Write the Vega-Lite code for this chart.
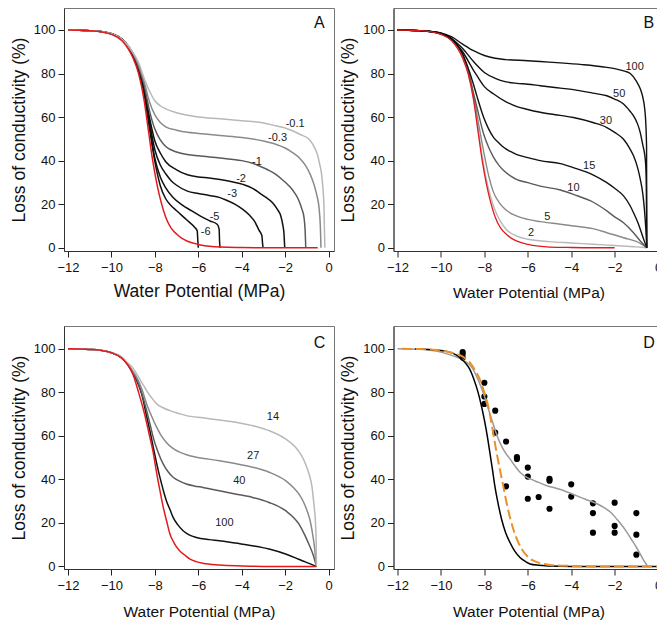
{
"$schema": "https://vega.github.io/schema/vega-lite/v6.json",
"background": "white",
"padding": {"left": 9, "top": 7, "right": -7, "bottom": 0},
"columns": 2,
"spacing": {"row": 75, "column": 59.5},
"bounds": "flush",
"config": {
  "font": "Liberation Sans",
  "view": {"stroke": "#777", "strokeWidth": 1},
  "axis": {"grid": false, "labelFont": "Liberation Sans", "titleFont": "Liberation Sans", "labelFontSize": 13, "titleFontWeight": "normal", "tickSize": 6, "tickColor": "#222", "domainColor": "#333", "labelColor": "#111", "titleColor": "#111", "labelFlush": false, "labelOverlap": false},
  "axisX": {"labelPadding": 4, "titlePadding": 10, "titleFontSize": 15.5},
  "axisY": {"labelPadding": 3, "titlePadding": 5, "titleFontSize": 17.5},
  "text": {"font": "Liberation Sans"}
},
"datasets": {
"A": [
{"s":"red","x":-12,"y":100},{"s":"red","x":-11.5,"y":99.9},{"s":"red","x":-11,"y":99.7},{"s":"red","x":-10.5,"y":99.2},{"s":"red","x":-10,"y":98},{"s":"red","x":-9.5,"y":95},{"s":"red","x":-9,"y":87},{"s":"red","x":-8.75,"y":80},{"s":"red","x":-8.5,"y":68},{"s":"red","x":-8.3,"y":54},{"s":"red","x":-8.1,"y":40},{"s":"red","x":-7.9,"y":29},{"s":"red","x":-7.7,"y":20.5},{"s":"red","x":-7.5,"y":14},{"s":"red","x":-7.25,"y":9},{"s":"red","x":-7,"y":6.3},{"s":"red","x":-6.75,"y":4.3},{"s":"red","x":-6.5,"y":3},{"s":"red","x":-6,"y":1.5},{"s":"red","x":-5.5,"y":0.7},{"s":"red","x":-5,"y":0.3},{"s":"red","x":-4,"y":0.1},{"s":"red","x":-3,"y":0},{"s":"red","x":-0.5,"y":0},
{"s":"-6","x":-12,"y":100},{"s":"-6","x":-11.5,"y":99.9},{"s":"-6","x":-11,"y":99.7},{"s":"-6","x":-10.5,"y":99.3},{"s":"-6","x":-10,"y":98.3},{"s":"-6","x":-9.5,"y":95.6},{"s":"-6","x":-9,"y":88},{"s":"-6","x":-8.75,"y":81},{"s":"-6","x":-8.5,"y":71},{"s":"-6","x":-8.25,"y":55},{"s":"-6","x":-8,"y":39.5},{"s":"-6","x":-7.75,"y":28.5},{"s":"-6","x":-7.5,"y":22.5},{"s":"-6","x":-7.25,"y":19.3},{"s":"-6","x":-7,"y":17},{"s":"-6","x":-6.5,"y":12.5},{"s":"-6","x":-6.15,"y":9.2},{"s":"-6","x":-6.05,"y":7.8},{"s":"-6","x":-6.02,"y":3},{"s":"-6","x":-6,"y":0},
{"s":"-5","x":-12,"y":100},{"s":"-5","x":-11.5,"y":99.9},{"s":"-5","x":-11,"y":99.7},{"s":"-5","x":-10.5,"y":99.3},{"s":"-5","x":-10,"y":98.3},{"s":"-5","x":-9.5,"y":95.6},{"s":"-5","x":-9,"y":88.3},{"s":"-5","x":-8.75,"y":81.5},{"s":"-5","x":-8.5,"y":72},{"s":"-5","x":-8.25,"y":56.5},{"s":"-5","x":-8,"y":41},{"s":"-5","x":-7.75,"y":32.5},{"s":"-5","x":-7.5,"y":27.5},{"s":"-5","x":-7.15,"y":23},{"s":"-5","x":-6.75,"y":19.7},{"s":"-5","x":-6.3,"y":16.9},{"s":"-5","x":-5.9,"y":14.5},{"s":"-5","x":-5.46,"y":12.3},{"s":"-5","x":-5.12,"y":10.7},{"s":"-5","x":-5.04,"y":8.5},{"s":"-5","x":-5.02,"y":3},{"s":"-5","x":-5,"y":0},
{"s":"-3","x":-12,"y":100},{"s":"-3","x":-11.5,"y":99.9},{"s":"-3","x":-11,"y":99.7},{"s":"-3","x":-10.5,"y":99.3},{"s":"-3","x":-10,"y":98.3},{"s":"-3","x":-9.5,"y":95.6},{"s":"-3","x":-9,"y":88.6},{"s":"-3","x":-8.75,"y":82},{"s":"-3","x":-8.5,"y":73},{"s":"-3","x":-8.25,"y":58},{"s":"-3","x":-8,"y":45},{"s":"-3","x":-7.75,"y":38},{"s":"-3","x":-7.5,"y":34},{"s":"-3","x":-7.25,"y":30.8},{"s":"-3","x":-7,"y":28.7},{"s":"-3","x":-6.5,"y":26},{"s":"-3","x":-6,"y":24.9},{"s":"-3","x":-5.5,"y":24},{"s":"-3","x":-5,"y":23},{"s":"-3","x":-4.7,"y":21.8},{"s":"-3","x":-4.3,"y":19.9},{"s":"-3","x":-3.95,"y":17.6},{"s":"-3","x":-3.65,"y":15},{"s":"-3","x":-3.42,"y":12.3},{"s":"-3","x":-3.2,"y":8},{"s":"-3","x":-3.07,"y":5.5},{"s":"-3","x":-3.04,"y":2},{"s":"-3","x":-3.02,"y":0},
{"s":"-2","x":-12,"y":100},{"s":"-2","x":-11.5,"y":99.9},{"s":"-2","x":-11,"y":99.7},{"s":"-2","x":-10.5,"y":99.3},{"s":"-2","x":-10,"y":98.3},{"s":"-2","x":-9.5,"y":95.6},{"s":"-2","x":-9,"y":88.8},{"s":"-2","x":-8.75,"y":82.5},{"s":"-2","x":-8.5,"y":74},{"s":"-2","x":-8.25,"y":60},{"s":"-2","x":-8,"y":49},{"s":"-2","x":-7.75,"y":43.5},{"s":"-2","x":-7.5,"y":39.5},{"s":"-2","x":-7,"y":35.8},{"s":"-2","x":-6.5,"y":33.5},{"s":"-2","x":-6,"y":32.5},{"s":"-2","x":-5.5,"y":32},{"s":"-2","x":-5,"y":31.3},{"s":"-2","x":-4.5,"y":30.4},{"s":"-2","x":-3.95,"y":29.1},{"s":"-2","x":-3.5,"y":27.3},{"s":"-2","x":-3.2,"y":25.3},{"s":"-2","x":-2.9,"y":23.2},{"s":"-2","x":-2.58,"y":20.7},{"s":"-2","x":-2.35,"y":17.5},{"s":"-2","x":-2.2,"y":14.6},{"s":"-2","x":-2.1,"y":10},{"s":"-2","x":-2.05,"y":6},{"s":"-2","x":-2.03,"y":2},{"s":"-2","x":-2.02,"y":0},
{"s":"-1","x":-12,"y":100},{"s":"-1","x":-11.5,"y":99.9},{"s":"-1","x":-11,"y":99.7},{"s":"-1","x":-10.5,"y":99.3},{"s":"-1","x":-10,"y":98.3},{"s":"-1","x":-9.5,"y":95.6},{"s":"-1","x":-9,"y":89},{"s":"-1","x":-8.75,"y":83},{"s":"-1","x":-8.5,"y":75},{"s":"-1","x":-8.25,"y":63},{"s":"-1","x":-8,"y":54.5},{"s":"-1","x":-7.75,"y":49.5},{"s":"-1","x":-7.5,"y":46.5},{"s":"-1","x":-7,"y":44},{"s":"-1","x":-6.5,"y":42.8},{"s":"-1","x":-6,"y":42.2},{"s":"-1","x":-5,"y":41.2},{"s":"-1","x":-4,"y":40},{"s":"-1","x":-3.5,"y":38.8},{"s":"-1","x":-3.2,"y":37.6},{"s":"-1","x":-2.8,"y":35.8},{"s":"-1","x":-2.43,"y":33.7},{"s":"-1","x":-2.1,"y":31},{"s":"-1","x":-1.82,"y":28.4},{"s":"-1","x":-1.55,"y":25},{"s":"-1","x":-1.36,"y":21.5},{"s":"-1","x":-1.22,"y":17.5},{"s":"-1","x":-1.13,"y":13.8},{"s":"-1","x":-1.08,"y":8},{"s":"-1","x":-1.06,"y":3},{"s":"-1","x":-1.05,"y":0},
{"s":"-0.3","x":-12,"y":100},{"s":"-0.3","x":-11.5,"y":99.9},{"s":"-0.3","x":-11,"y":99.7},{"s":"-0.3","x":-10.5,"y":99.3},{"s":"-0.3","x":-10,"y":98.3},{"s":"-0.3","x":-9.5,"y":95.6},{"s":"-0.3","x":-9,"y":89.3},{"s":"-0.3","x":-8.75,"y":84},{"s":"-0.3","x":-8.5,"y":76.5},{"s":"-0.3","x":-8.25,"y":67},{"s":"-0.3","x":-8,"y":61},{"s":"-0.3","x":-7.75,"y":57.5},{"s":"-0.3","x":-7.5,"y":55.5},{"s":"-0.3","x":-7,"y":54},{"s":"-0.3","x":-6.5,"y":53},{"s":"-0.3","x":-6,"y":52.5},{"s":"-0.3","x":-5,"y":51.5},{"s":"-0.3","x":-4,"y":50.6},{"s":"-0.3","x":-3,"y":49},{"s":"-0.3","x":-2.43,"y":47.5},{"s":"-0.3","x":-2,"y":45.8},{"s":"-0.3","x":-1.66,"y":43.7},{"s":"-0.3","x":-1.3,"y":40.8},{"s":"-0.3","x":-1.05,"y":37.6},{"s":"-0.3","x":-0.85,"y":33.8},{"s":"-0.3","x":-0.67,"y":29},{"s":"-0.3","x":-0.55,"y":24.5},{"s":"-0.3","x":-0.44,"y":18.4},{"s":"-0.3","x":-0.38,"y":10},{"s":"-0.3","x":-0.36,"y":4},{"s":"-0.3","x":-0.35,"y":0},
{"s":"-0.1","x":-12,"y":100},{"s":"-0.1","x":-11.5,"y":99.9},{"s":"-0.1","x":-11,"y":99.7},{"s":"-0.1","x":-10.5,"y":99.3},{"s":"-0.1","x":-10,"y":98.3},{"s":"-0.1","x":-9.5,"y":95.6},{"s":"-0.1","x":-9,"y":89.5},{"s":"-0.1","x":-8.75,"y":85},{"s":"-0.1","x":-8.5,"y":78},{"s":"-0.1","x":-8.25,"y":72},{"s":"-0.1","x":-8,"y":67.5},{"s":"-0.1","x":-7.75,"y":65.2},{"s":"-0.1","x":-7.5,"y":63.8},{"s":"-0.1","x":-7,"y":62},{"s":"-0.1","x":-6.5,"y":60.8},{"s":"-0.1","x":-6,"y":60},{"s":"-0.1","x":-5,"y":59.2},{"s":"-0.1","x":-4,"y":58.3},{"s":"-0.1","x":-3,"y":57.3},{"s":"-0.1","x":-2.43,"y":56},{"s":"-0.1","x":-2,"y":55},{"s":"-0.1","x":-1.66,"y":53.7},{"s":"-0.1","x":-1.3,"y":52},{"s":"-0.1","x":-0.9,"y":49.8},{"s":"-0.1","x":-0.7,"y":47},{"s":"-0.1","x":-0.52,"y":43},{"s":"-0.1","x":-0.4,"y":38},{"s":"-0.1","x":-0.32,"y":33.7},{"s":"-0.1","x":-0.25,"y":26},{"s":"-0.1","x":-0.21,"y":18},{"s":"-0.1","x":-0.19,"y":8},{"s":"-0.1","x":-0.17,"y":0}
],
"B": [
{"s":"red","x":-12,"y":100},{"s":"red","x":-11.5,"y":99.9},{"s":"red","x":-11,"y":99.7},{"s":"red","x":-10.5,"y":99.2},{"s":"red","x":-10,"y":98},{"s":"red","x":-9.5,"y":95},{"s":"red","x":-9,"y":87},{"s":"red","x":-8.75,"y":80},{"s":"red","x":-8.5,"y":68},{"s":"red","x":-8.3,"y":54},{"s":"red","x":-8.1,"y":40},{"s":"red","x":-7.9,"y":29},{"s":"red","x":-7.7,"y":20.5},{"s":"red","x":-7.5,"y":14},{"s":"red","x":-7.25,"y":9},{"s":"red","x":-7,"y":6.3},{"s":"red","x":-6.75,"y":4.3},{"s":"red","x":-6.5,"y":3},{"s":"red","x":-6,"y":1.5},{"s":"red","x":-5.5,"y":0.7},{"s":"red","x":-5,"y":0.3},{"s":"red","x":-4,"y":0.1},{"s":"red","x":-3,"y":0},{"s":"red","x":-2,"y":0},
{"s":"2","x":-12,"y":100},{"s":"2","x":-11.5,"y":99.9},{"s":"2","x":-11,"y":99.7},{"s":"2","x":-10.5,"y":99.3},{"s":"2","x":-10,"y":98.1},{"s":"2","x":-9.5,"y":95.2},{"s":"2","x":-9,"y":87.5},{"s":"2","x":-8.75,"y":80.5},{"s":"2","x":-8.5,"y":69},{"s":"2","x":-8.3,"y":55.5},{"s":"2","x":-8.1,"y":42},{"s":"2","x":-7.9,"y":31},{"s":"2","x":-7.7,"y":23},{"s":"2","x":-7.5,"y":17},{"s":"2","x":-7.25,"y":12},{"s":"2","x":-7,"y":8.5},{"s":"2","x":-6.5,"y":5.3},{"s":"2","x":-6,"y":3.9},{"s":"2","x":-5,"y":2.8},{"s":"2","x":-4,"y":2.2},{"s":"2","x":-3,"y":1.6},{"s":"2","x":-2,"y":1},{"s":"2","x":-1,"y":0.4},{"s":"2","x":-0.52,"y":0},
{"s":"5","x":-12,"y":100},{"s":"5","x":-11.5,"y":99.9},{"s":"5","x":-11,"y":99.7},{"s":"5","x":-10.5,"y":99.3},{"s":"5","x":-10,"y":98.1},{"s":"5","x":-9.5,"y":95.3},{"s":"5","x":-9,"y":88},{"s":"5","x":-8.75,"y":81},{"s":"5","x":-8.5,"y":70},{"s":"5","x":-8.25,"y":56},{"s":"5","x":-8.03,"y":44},{"s":"5","x":-7.8,"y":33},{"s":"5","x":-7.6,"y":26},{"s":"5","x":-7.3,"y":20.5},{"s":"5","x":-7,"y":17.3},{"s":"5","x":-6.5,"y":14.5},{"s":"5","x":-6,"y":13},{"s":"5","x":-5.43,"y":12},{"s":"5","x":-4.5,"y":10.8},{"s":"5","x":-3.9,"y":10},{"s":"5","x":-3,"y":8.8},{"s":"5","x":-2.36,"y":6.9},{"s":"5","x":-1.59,"y":4.6},{"s":"5","x":-0.82,"y":2},{"s":"5","x":-0.52,"y":0},
{"s":"10","x":-12,"y":100},{"s":"10","x":-11.5,"y":99.9},{"s":"10","x":-11,"y":99.7},{"s":"10","x":-10.5,"y":99.3},{"s":"10","x":-10,"y":98.2},{"s":"10","x":-9.5,"y":95.5},{"s":"10","x":-9,"y":88.5},{"s":"10","x":-8.75,"y":81.5},{"s":"10","x":-8.5,"y":71},{"s":"10","x":-8.34,"y":64.4},{"s":"10","x":-8.03,"y":52.1},{"s":"10","x":-7.8,"y":46},{"s":"10","x":-7.57,"y":41.4},{"s":"10","x":-7.3,"y":37.5},{"s":"10","x":-7.1,"y":35.3},{"s":"10","x":-6.8,"y":33},{"s":"10","x":-6.5,"y":31.3},{"s":"10","x":-6,"y":29.9},{"s":"10","x":-5.43,"y":28.3},{"s":"10","x":-4.5,"y":26.5},{"s":"10","x":-3.9,"y":24.5},{"s":"10","x":-3,"y":21},{"s":"10","x":-2.36,"y":16.9},{"s":"10","x":-2,"y":14.2},{"s":"10","x":-1.59,"y":11.5},{"s":"10","x":-1.13,"y":6.9},{"s":"10","x":-0.82,"y":3.1},{"s":"10","x":-0.52,"y":0},
{"s":"15","x":-12,"y":100},{"s":"15","x":-11.5,"y":99.9},{"s":"15","x":-11,"y":99.7},{"s":"15","x":-10.5,"y":99.3},{"s":"15","x":-10,"y":98.3},{"s":"15","x":-9.5,"y":95.8},{"s":"15","x":-9,"y":89},{"s":"15","x":-8.8,"y":84},{"s":"15","x":-8.5,"y":75},{"s":"15","x":-8.34,"y":69.5},{"s":"15","x":-8.03,"y":59.8},{"s":"15","x":-7.8,"y":54.5},{"s":"15","x":-7.57,"y":50.6},{"s":"15","x":-7.3,"y":47.8},{"s":"15","x":-7.1,"y":46},{"s":"15","x":-6.8,"y":44.2},{"s":"15","x":-6.5,"y":42.8},{"s":"15","x":-6,"y":41.4},{"s":"15","x":-5.43,"y":40},{"s":"15","x":-4.5,"y":38.6},{"s":"15","x":-3.9,"y":36.8},{"s":"15","x":-3,"y":33.5},{"s":"15","x":-2.36,"y":29.9},{"s":"15","x":-2,"y":27.3},{"s":"15","x":-1.59,"y":23.8},{"s":"15","x":-1.3,"y":19.5},{"s":"15","x":-1.13,"y":16.1},{"s":"15","x":-0.95,"y":12},{"s":"15","x":-0.82,"y":8.5},{"s":"15","x":-0.65,"y":3.5},{"s":"15","x":-0.52,"y":0},
{"s":"30","x":-12,"y":100},{"s":"30","x":-11.5,"y":99.9},{"s":"30","x":-11,"y":99.7},{"s":"30","x":-10.5,"y":99.3},{"s":"30","x":-10,"y":98.4},{"s":"30","x":-9.5,"y":96},{"s":"30","x":-9,"y":90},{"s":"30","x":-8.5,"y":81.5},{"s":"30","x":-8.34,"y":79},{"s":"30","x":-8,"y":74},{"s":"30","x":-7.57,"y":70.6},{"s":"30","x":-7,"y":67},{"s":"30","x":-6.5,"y":64.8},{"s":"30","x":-6,"y":63.5},{"s":"30","x":-5.43,"y":62.2},{"s":"30","x":-4.5,"y":60.8},{"s":"30","x":-3.9,"y":59.8},{"s":"30","x":-3,"y":57.5},{"s":"30","x":-2.36,"y":55.2},{"s":"30","x":-2,"y":53},{"s":"30","x":-1.59,"y":49.8},{"s":"30","x":-1.3,"y":45.5},{"s":"30","x":-1.13,"y":42.2},{"s":"30","x":-0.95,"y":37},{"s":"30","x":-0.82,"y":31.5},{"s":"30","x":-0.7,"y":24.5},{"s":"30","x":-0.63,"y":17.7},{"s":"30","x":-0.56,"y":8},{"s":"30","x":-0.52,"y":0},
{"s":"50","x":-12,"y":100},{"s":"50","x":-11.5,"y":99.9},{"s":"50","x":-11,"y":99.7},{"s":"50","x":-10.5,"y":99.3},{"s":"50","x":-10,"y":98.5},{"s":"50","x":-9.5,"y":96},{"s":"50","x":-9,"y":91.5},{"s":"50","x":-8.5,"y":85.5},{"s":"50","x":-8,"y":80.5},{"s":"50","x":-7.5,"y":77.8},{"s":"50","x":-7,"y":76.2},{"s":"50","x":-6.5,"y":75.5},{"s":"50","x":-6,"y":75.1},{"s":"50","x":-5.43,"y":74.4},{"s":"50","x":-4.5,"y":73.3},{"s":"50","x":-3.9,"y":72.6},{"s":"50","x":-3,"y":71},{"s":"50","x":-2.36,"y":69.8},{"s":"50","x":-2,"y":68.3},{"s":"50","x":-1.59,"y":66},{"s":"50","x":-1.3,"y":62.8},{"s":"50","x":-1.13,"y":60.6},{"s":"50","x":-0.95,"y":57},{"s":"50","x":-0.82,"y":52.9},{"s":"50","x":-0.7,"y":47},{"s":"50","x":-0.63,"y":43.7},{"s":"50","x":-0.57,"y":38},{"s":"50","x":-0.54,"y":28},{"s":"50","x":-0.52,"y":0},
{"s":"100","x":-12,"y":100},{"s":"100","x":-11.5,"y":99.9},{"s":"100","x":-11,"y":99.7},{"s":"100","x":-10.5,"y":99.3},{"s":"100","x":-10,"y":98.7},{"s":"100","x":-9.5,"y":96.8},{"s":"100","x":-9,"y":93.5},{"s":"100","x":-8.5,"y":90.5},{"s":"100","x":-8,"y":88.3},{"s":"100","x":-7.5,"y":87},{"s":"100","x":-7,"y":86.4},{"s":"100","x":-6,"y":85.9},{"s":"100","x":-5.43,"y":85.5},{"s":"100","x":-4.5,"y":84.9},{"s":"100","x":-3.5,"y":84.1},{"s":"100","x":-2.5,"y":83},{"s":"100","x":-1.9,"y":82},{"s":"100","x":-1.5,"y":81},{"s":"100","x":-1.28,"y":80},{"s":"100","x":-1,"y":76.5},{"s":"100","x":-0.82,"y":73},{"s":"100","x":-0.7,"y":69},{"s":"100","x":-0.63,"y":65},{"s":"100","x":-0.56,"y":56},{"s":"100","x":-0.53,"y":46},{"s":"100","x":-0.52,"y":0}
],
"C": [
{"s":"red","x":-12,"y":100},{"s":"red","x":-11.5,"y":99.9},{"s":"red","x":-11,"y":99.7},{"s":"red","x":-10.5,"y":99.3},{"s":"red","x":-10,"y":98.2},{"s":"red","x":-9.5,"y":95.5},{"s":"red","x":-9,"y":88},{"s":"red","x":-8.75,"y":80},{"s":"red","x":-8.5,"y":71},{"s":"red","x":-8.38,"y":66},{"s":"red","x":-8.2,"y":58},{"s":"red","x":-8.08,"y":52.5},{"s":"red","x":-7.92,"y":43},{"s":"red","x":-7.75,"y":34},{"s":"red","x":-7.62,"y":27.5},{"s":"red","x":-7.45,"y":20.5},{"s":"red","x":-7.31,"y":15},{"s":"red","x":-7.1,"y":10.5},{"s":"red","x":-6.86,"y":7.2},{"s":"red","x":-6.6,"y":5},{"s":"red","x":-6.4,"y":3.5},{"s":"red","x":-6.1,"y":2.2},{"s":"red","x":-5.79,"y":1.4},{"s":"red","x":-5.03,"y":0.6},{"s":"red","x":-4,"y":0.2},{"s":"red","x":-3,"y":0},{"s":"red","x":-0.56,"y":0},
{"s":"100","x":-12,"y":100},{"s":"100","x":-11.5,"y":99.9},{"s":"100","x":-11,"y":99.7},{"s":"100","x":-10.5,"y":99.3},{"s":"100","x":-10,"y":98.2},{"s":"100","x":-9.5,"y":95.7},{"s":"100","x":-9,"y":88.7},{"s":"100","x":-8.84,"y":85.5},{"s":"100","x":-8.6,"y":79},{"s":"100","x":-8.38,"y":69},{"s":"100","x":-8.2,"y":61},{"s":"100","x":-8.08,"y":55},{"s":"100","x":-7.92,"y":47.5},{"s":"100","x":-7.77,"y":41},{"s":"100","x":-7.62,"y":35.3},{"s":"100","x":-7.47,"y":30.2},{"s":"100","x":-7.3,"y":26},{"s":"100","x":-7.16,"y":22.5},{"s":"100","x":-6.95,"y":19.2},{"s":"100","x":-6.7,"y":16.4},{"s":"100","x":-6.4,"y":14.4},{"s":"100","x":-6.09,"y":13.3},{"s":"100","x":-5.5,"y":12.3},{"s":"100","x":-5.03,"y":11.8},{"s":"100","x":-4.3,"y":10.7},{"s":"100","x":-3.5,"y":9.5},{"s":"100","x":-2.74,"y":8},{"s":"100","x":-1.98,"y":5.7},{"s":"100","x":-1.5,"y":3.8},{"s":"100","x":-1.22,"y":2.6},{"s":"100","x":-0.9,"y":1.4},{"s":"100","x":-0.56,"y":0},
{"s":"40","x":-12,"y":100},{"s":"40","x":-11.5,"y":99.9},{"s":"40","x":-11,"y":99.7},{"s":"40","x":-10.5,"y":99.3},{"s":"40","x":-10,"y":98.2},{"s":"40","x":-9.5,"y":95.8},{"s":"40","x":-9,"y":89},{"s":"40","x":-8.84,"y":86.2},{"s":"40","x":-8.6,"y":79.5},{"s":"40","x":-8.38,"y":71.6},{"s":"40","x":-8.2,"y":64.5},{"s":"40","x":-8.08,"y":59.4},{"s":"40","x":-7.85,"y":52.5},{"s":"40","x":-7.62,"y":47.1},{"s":"40","x":-7.4,"y":43.6},{"s":"40","x":-7.16,"y":41},{"s":"40","x":-6.86,"y":39.2},{"s":"40","x":-6.55,"y":37.9},{"s":"40","x":-6.2,"y":37},{"s":"40","x":-5.79,"y":36.3},{"s":"40","x":-5.03,"y":34.8},{"s":"40","x":-4.3,"y":33.3},{"s":"40","x":-3.5,"y":31.7},{"s":"40","x":-2.74,"y":29.4},{"s":"40","x":-1.98,"y":25.6},{"s":"40","x":-1.37,"y":19.5},{"s":"40","x":-1.1,"y":14.5},{"s":"40","x":-0.91,"y":10.3},{"s":"40","x":-0.7,"y":5},{"s":"40","x":-0.56,"y":0},
{"s":"27","x":-12,"y":100},{"s":"27","x":-11.5,"y":99.9},{"s":"27","x":-11,"y":99.7},{"s":"27","x":-10.5,"y":99.3},{"s":"27","x":-10,"y":98.2},{"s":"27","x":-9.5,"y":96},{"s":"27","x":-9,"y":89.5},{"s":"27","x":-8.84,"y":87},{"s":"27","x":-8.6,"y":81.5},{"s":"27","x":-8.38,"y":74.7},{"s":"27","x":-8.15,"y":69},{"s":"27","x":-7.92,"y":64},{"s":"27","x":-7.7,"y":60},{"s":"27","x":-7.47,"y":57},{"s":"27","x":-7.2,"y":54.5},{"s":"27","x":-6.86,"y":52.5},{"s":"27","x":-6.5,"y":51.2},{"s":"27","x":-6.09,"y":50.2},{"s":"27","x":-5.03,"y":48.6},{"s":"27","x":-4.3,"y":47.3},{"s":"27","x":-3.5,"y":45.6},{"s":"27","x":-2.74,"y":43.3},{"s":"27","x":-1.98,"y":39.4},{"s":"27","x":-1.6,"y":36},{"s":"27","x":-1.37,"y":33.3},{"s":"27","x":-1.15,"y":29.5},{"s":"27","x":-0.99,"y":25.6},{"s":"27","x":-0.85,"y":21},{"s":"27","x":-0.76,"y":16.4},{"s":"27","x":-0.65,"y":9},{"s":"27","x":-0.56,"y":0},
{"s":"14","x":-12,"y":100},{"s":"14","x":-11.5,"y":99.9},{"s":"14","x":-11,"y":99.7},{"s":"14","x":-10.5,"y":99.3},{"s":"14","x":-10,"y":98.2},{"s":"14","x":-9.6,"y":96.7},{"s":"14","x":-9.3,"y":94},{"s":"14","x":-9,"y":91},{"s":"14","x":-8.84,"y":88.5},{"s":"14","x":-8.6,"y":84.5},{"s":"14","x":-8.38,"y":80.8},{"s":"14","x":-8.15,"y":77.5},{"s":"14","x":-7.92,"y":74.7},{"s":"14","x":-7.6,"y":72.8},{"s":"14","x":-7.31,"y":71.6},{"s":"14","x":-6.9,"y":70.3},{"s":"14","x":-6.55,"y":69.3},{"s":"14","x":-5.79,"y":68.3},{"s":"14","x":-5.03,"y":67.3},{"s":"14","x":-4.27,"y":66.3},{"s":"14","x":-3.5,"y":64.7},{"s":"14","x":-2.74,"y":62.4},{"s":"14","x":-1.98,"y":58.6},{"s":"14","x":-1.52,"y":54.8},{"s":"14","x":-1.25,"y":51},{"s":"14","x":-1.06,"y":47.1},{"s":"14","x":-0.9,"y":42.5},{"s":"14","x":-0.76,"y":36.3},{"s":"14","x":-0.67,"y":28},{"s":"14","x":-0.6,"y":19.5},{"s":"14","x":-0.57,"y":10},{"s":"14","x":-0.56,"y":0}
],
"D": [
{"s":"grey","x":-12,"y":100},{"s":"grey","x":-11,"y":99.8},{"s":"grey","x":-10.5,"y":99.4},{"s":"grey","x":-10,"y":98.5},{"s":"grey","x":-9.5,"y":97},{"s":"grey","x":-9,"y":95},{"s":"grey","x":-8.53,"y":90.8},{"s":"grey","x":-8.3,"y":86},{"s":"grey","x":-8.06,"y":80},{"s":"grey","x":-7.85,"y":73.5},{"s":"grey","x":-7.67,"y":67.8},{"s":"grey","x":-7.5,"y":62.5},{"s":"grey","x":-7.29,"y":57},{"s":"grey","x":-7.05,"y":52.5},{"s":"grey","x":-6.82,"y":49.4},{"s":"grey","x":-6.6,"y":46.3},{"s":"grey","x":-6.36,"y":43.3},{"s":"grey","x":-6.1,"y":41.3},{"s":"grey","x":-5.89,"y":40.2},{"s":"grey","x":-5.5,"y":38.6},{"s":"grey","x":-5.12,"y":37.1},{"s":"grey","x":-4.7,"y":35.9},{"s":"grey","x":-4.34,"y":34.8},{"s":"grey","x":-3.95,"y":33.3},{"s":"grey","x":-3.57,"y":31.7},{"s":"grey","x":-3.2,"y":30.3},{"s":"grey","x":-2.79,"y":28.7},{"s":"grey","x":-2.45,"y":26.8},{"s":"grey","x":-2.17,"y":24.8},{"s":"grey","x":-1.95,"y":22.3},{"s":"grey","x":-1.71,"y":19.5},{"s":"grey","x":-1.47,"y":16.2},{"s":"grey","x":-1.24,"y":12.6},{"s":"grey","x":-1,"y":8.8},{"s":"grey","x":-0.78,"y":4.9},{"s":"grey","x":-0.6,"y":1.8},{"s":"grey","x":-0.5,"y":0.3},
{"s":"black","x":-11.2,"y":99.9},{"s":"black","x":-10.54,"y":99.7},{"s":"black","x":-10,"y":99.2},{"s":"black","x":-9.61,"y":98.5},{"s":"black","x":-9.3,"y":97.2},{"s":"black","x":-9.07,"y":95.4},{"s":"black","x":-8.85,"y":93.2},{"s":"black","x":-8.68,"y":90.8},{"s":"black","x":-8.5,"y":86.5},{"s":"black","x":-8.29,"y":80},{"s":"black","x":-8.13,"y":73.5},{"s":"black","x":-7.98,"y":66.3},{"s":"black","x":-7.85,"y":59},{"s":"black","x":-7.75,"y":52.5},{"s":"black","x":-7.62,"y":44},{"s":"black","x":-7.52,"y":37.1},{"s":"black","x":-7.37,"y":29},{"s":"black","x":-7.21,"y":21.8},{"s":"black","x":-7.02,"y":15.5},{"s":"black","x":-6.82,"y":11},{"s":"black","x":-6.6,"y":7},{"s":"black","x":-6.36,"y":4.1},{"s":"black","x":-6.1,"y":2.2},{"s":"black","x":-5.89,"y":1.1},{"s":"black","x":-5.5,"y":0.5},{"s":"black","x":-5,"y":0.2},{"s":"black","x":-4,"y":0},{"s":"black","x":0,"y":0},
{"s":"orange","x":-11.8,"y":100},{"s":"orange","x":-11,"y":99.9},{"s":"orange","x":-10.5,"y":99.7},{"s":"orange","x":-10,"y":99.2},{"s":"orange","x":-9.5,"y":98.2},{"s":"orange","x":-9.15,"y":97.2},{"s":"orange","x":-8.9,"y":95.8},{"s":"orange","x":-8.68,"y":93.9},{"s":"orange","x":-8.45,"y":90.5},{"s":"orange","x":-8.22,"y":86.2},{"s":"orange","x":-8.02,"y":80.5},{"s":"orange","x":-7.83,"y":73.9},{"s":"orange","x":-7.7,"y":67.5},{"s":"orange","x":-7.6,"y":61.7},{"s":"orange","x":-7.45,"y":53},{"s":"orange","x":-7.29,"y":44.8},{"s":"orange","x":-7.13,"y":37},{"s":"orange","x":-6.98,"y":29.4},{"s":"orange","x":-6.82,"y":22.5},{"s":"orange","x":-6.67,"y":17.2},{"s":"orange","x":-6.48,"y":12},{"s":"orange","x":-6.28,"y":8},{"s":"orange","x":-6.02,"y":4.6},{"s":"orange","x":-5.74,"y":2.6},{"s":"orange","x":-5.35,"y":1.3},{"s":"orange","x":-4.96,"y":0.6},{"s":"orange","x":-4,"y":0.2},{"s":"orange","x":-3,"y":0},{"s":"orange","x":0.2,"y":0}
],
"Dp": [
{"x":-9,"y":98.5},{"x":-9,"y":97.5},{"x":-9,"y":96},{"x":-8,"y":84.4},{"x":-8,"y":78.1},{"x":-8,"y":74.7},{"x":-7.5,"y":71.6},{"x":-7.5,"y":61.5},{"x":-7,"y":57.4},{"x":-7,"y":36.8},{"x":-6.5,"y":50.2},{"x":-6.5,"y":49.4},{"x":-6,"y":45.4},{"x":-6,"y":41.3},{"x":-6,"y":31.1},{"x":-5.5,"y":31.9},{"x":-5,"y":40.2},{"x":-5,"y":39.4},{"x":-5,"y":26.5},{"x":-4,"y":37.7},{"x":-4,"y":32.1},{"x":-3,"y":29},{"x":-3,"y":24.5},{"x":-3,"y":15.5},{"x":-2,"y":29.3},{"x":-2,"y":18.6},{"x":-2,"y":15.5},{"x":-1,"y":24.5},{"x":-1,"y":14.6},{"x":-1,"y":5.4}
],
"L": [
{"p":"A","x":-1.54,"y":56.8,"t":"-0.1"},{"p":"A","x":-2.35,"y":50.3,"t":"-0.3"},{"p":"A","x":-3.3,"y":39.2,"t":"-1"},{"p":"A","x":-4.03,"y":31.4,"t":"-2"},{"p":"A","x":-4.44,"y":24.5,"t":"-3"},{"p":"A","x":-5.25,"y":14,"t":"-5"},{"p":"A","x":-5.66,"y":7.2,"t":"-6"},
{"p":"B","x":-1.08,"y":83,"t":"100"},{"p":"B","x":-1.79,"y":70.8,"t":"50"},{"p":"B","x":-2.4,"y":58.3,"t":"30"},{"p":"B","x":-3.17,"y":37.6,"t":"15"},{"p":"B","x":-3.9,"y":27.3,"t":"10"},{"p":"B","x":-5.1,"y":14.3,"t":"5"},{"p":"B","x":-5.85,"y":6.6,"t":"2"},
{"p":"C","x":-2.56,"y":68.6,"t":"14"},{"p":"C","x":-3.47,"y":50.6,"t":"27"},{"p":"C","x":-4.11,"y":39.4,"t":"40"},{"p":"C","x":-4.8,"y":19.8,"t":"100"}
],
"P": [
{"p":"A","x":-0.42,"y":101,"t":"A"},{"p":"B","x":-0.42,"y":101,"t":"B"},{"p":"C","x":-0.42,"y":100.5,"t":"C"},{"p":"D","x":-0.42,"y":100.5,"t":"D"}
]
},
"concat": [
{
 "width": 270, "height": 243,
 "encoding": {
  "x": {"field": "x", "type": "quantitative", "scale": {"domain": [-12.185, 0.25], "nice": false, "zero": false}, "axis": {"values": [-12,-10,-8,-6,-4,-2,0], "title": "Water Potential (MPa)", "titleFontSize": 17.5, "titlePadding": 8}},
  "y": {"field": "y", "type": "quantitative", "scale": {"domain": [-1.5, 110.1], "nice": false, "zero": false}, "axis": {"values": [0,20,40,60,80,100], "title": "Loss of conductivity (%)"}}
 },
 "layer": [
  {"data": {"name": "A"}, "transform": [{"filter": "datum.s != 'red'"}], "mark": {"type": "line", "interpolate": "monotone", "strokeWidth": 1.5},
   "encoding": {"color": {"field": "s", "type": "nominal", "legend": null, "scale": {"domain": ["-0.1","-0.3","-1","-2","-3","-5","-6"], "range": ["#b8b8b8","#8a8a8a","#5a5a5a","#111111","#111111","#111111","#111111"]}}}},
  {"data": {"name": "A"}, "transform": [{"filter": "datum.s == 'red'"}], "mark": {"type": "line", "interpolate": "monotone", "strokeWidth": 1.5, "color": "#e31a1c"}, "encoding": {}},
  {"data": {"name": "L"}, "transform": [{"filter": "datum.p == 'A'"}], "mark": {"type": "text", "fontSize": 11, "color": "#222"}, "encoding": {"text": {"field": "t"}}},
  {"data": {"name": "P"}, "transform": [{"filter": "datum.p == 'A'"}], "mark": {"type": "text", "fontSize": 16, "baseline": "alphabetic", "color": "#111"}, "encoding": {"text": {"field": "t"}}}
 ]
},
{
 "width": 270, "height": 243,
 "encoding": {
  "x": {"field": "x", "type": "quantitative", "scale": {"domain": [-12.185, 0.25], "nice": false, "zero": false}, "axis": {"values": [-12,-10,-8,-6,-4,-2,0], "title": "Water Potential (MPa)", "titlePadding": 11}},
  "y": {"field": "y", "type": "quantitative", "scale": {"domain": [-1.5, 110.1], "nice": false, "zero": false}, "axis": {"values": [0,20,40,60,80,100], "title": "Loss of conductivity (%)"}}
 },
 "layer": [
  {"data": {"name": "B"}, "transform": [{"filter": "datum.s != 'red'"}], "mark": {"type": "line", "interpolate": "monotone", "strokeWidth": 1.4},
   "encoding": {"color": {"field": "s", "type": "nominal", "legend": null, "scale": {"domain": ["2","5","10","15","30","50","100"], "range": ["#dcdcdc","#bdbdbd","#999999","#7a7a7a","#555555","#1a1a1a","#000000"]}}}},
  {"data": {"name": "B"}, "transform": [{"filter": "datum.s == 'red'"}], "mark": {"type": "line", "interpolate": "monotone", "strokeWidth": 1.3, "color": "#e31a1c"}, "encoding": {}},
  {"data": {"name": "L"}, "transform": [{"filter": "datum.p == 'B'"}], "mark": {"type": "text", "fontSize": 11, "color": "#222"}, "encoding": {"text": {"field": "t"}}},
  {"data": {"name": "P"}, "transform": [{"filter": "datum.p == 'B'"}], "mark": {"type": "text", "fontSize": 16, "baseline": "alphabetic", "color": "#111"}, "encoding": {"text": {"field": "t"}}}
 ]
},
{
 "width": 270, "height": 243,
 "encoding": {
  "x": {"field": "x", "type": "quantitative", "scale": {"domain": [-12.185, 0.25], "nice": false, "zero": false}, "axis": {"values": [-12,-10,-8,-6,-4,-2,0], "title": "Water Potential (MPa)", "titlePadding": 12}},
  "y": {"field": "y", "type": "quantitative", "scale": {"domain": [-1.2, 110.5], "nice": false, "zero": false}, "axis": {"values": [0,20,40,60,80,100], "title": "Loss of conductivity (%)"}}
 },
 "layer": [
  {"data": {"name": "C"}, "transform": [{"filter": "datum.s != 'red'"}], "mark": {"type": "line", "interpolate": "monotone", "strokeWidth": 1.5},
   "encoding": {"color": {"field": "s", "type": "nominal", "legend": null, "scale": {"domain": ["14","27","40","100"], "range": ["#b3b3b3","#8f8f8f","#555555","#000000"]}}}},
  {"data": {"name": "C"}, "transform": [{"filter": "datum.s == 'red'"}], "mark": {"type": "line", "interpolate": "monotone", "strokeWidth": 1.5, "color": "#e31a1c"}, "encoding": {}},
  {"data": {"name": "L"}, "transform": [{"filter": "datum.p == 'C'"}], "mark": {"type": "text", "fontSize": 11, "color": "#222"}, "encoding": {"text": {"field": "t"}}},
  {"data": {"name": "P"}, "transform": [{"filter": "datum.p == 'C'"}], "mark": {"type": "text", "fontSize": 16, "baseline": "alphabetic", "color": "#111"}, "encoding": {"text": {"field": "t"}}}
 ]
},
{
 "width": 270, "height": 243,
 "encoding": {
  "x": {"field": "x", "type": "quantitative", "scale": {"domain": [-12.185, 0.25], "nice": false, "zero": false}, "axis": {"values": [-12,-10,-8,-6,-4,-2,0], "title": "Water Potential (MPa)", "titlePadding": 12}},
  "y": {"field": "y", "type": "quantitative", "scale": {"domain": [-1.2, 110.5], "nice": false, "zero": false}, "axis": {"values": [0,20,40,60,80,100], "title": "Loss of conductivity (%)"}}
 },
 "layer": [
  {"data": {"name": "Dp"}, "mark": {"type": "point", "filled": true, "size": 38, "color": "#000", "opacity": 1}, "encoding": {}},
  {"data": {"name": "D"}, "transform": [{"filter": "datum.s == 'grey'"}], "mark": {"type": "line", "interpolate": "monotone", "strokeWidth": 1.5, "color": "#9a9a9a"}, "encoding": {}},
  {"data": {"name": "D"}, "transform": [{"filter": "datum.s == 'black'"}], "mark": {"type": "line", "interpolate": "monotone", "strokeWidth": 1.5, "color": "#000"}, "encoding": {}},
  {"data": {"name": "D"}, "transform": [{"filter": "datum.s == 'orange'"}], "mark": {"type": "line", "interpolate": "monotone", "strokeWidth": 2, "color": "#e8902a", "strokeDash": [10, 4]}, "encoding": {}},
  {"data": {"name": "P"}, "transform": [{"filter": "datum.p == 'D'"}], "mark": {"type": "text", "fontSize": 16, "baseline": "alphabetic", "color": "#111"}, "encoding": {"text": {"field": "t"}}}
 ]
}
]
}
